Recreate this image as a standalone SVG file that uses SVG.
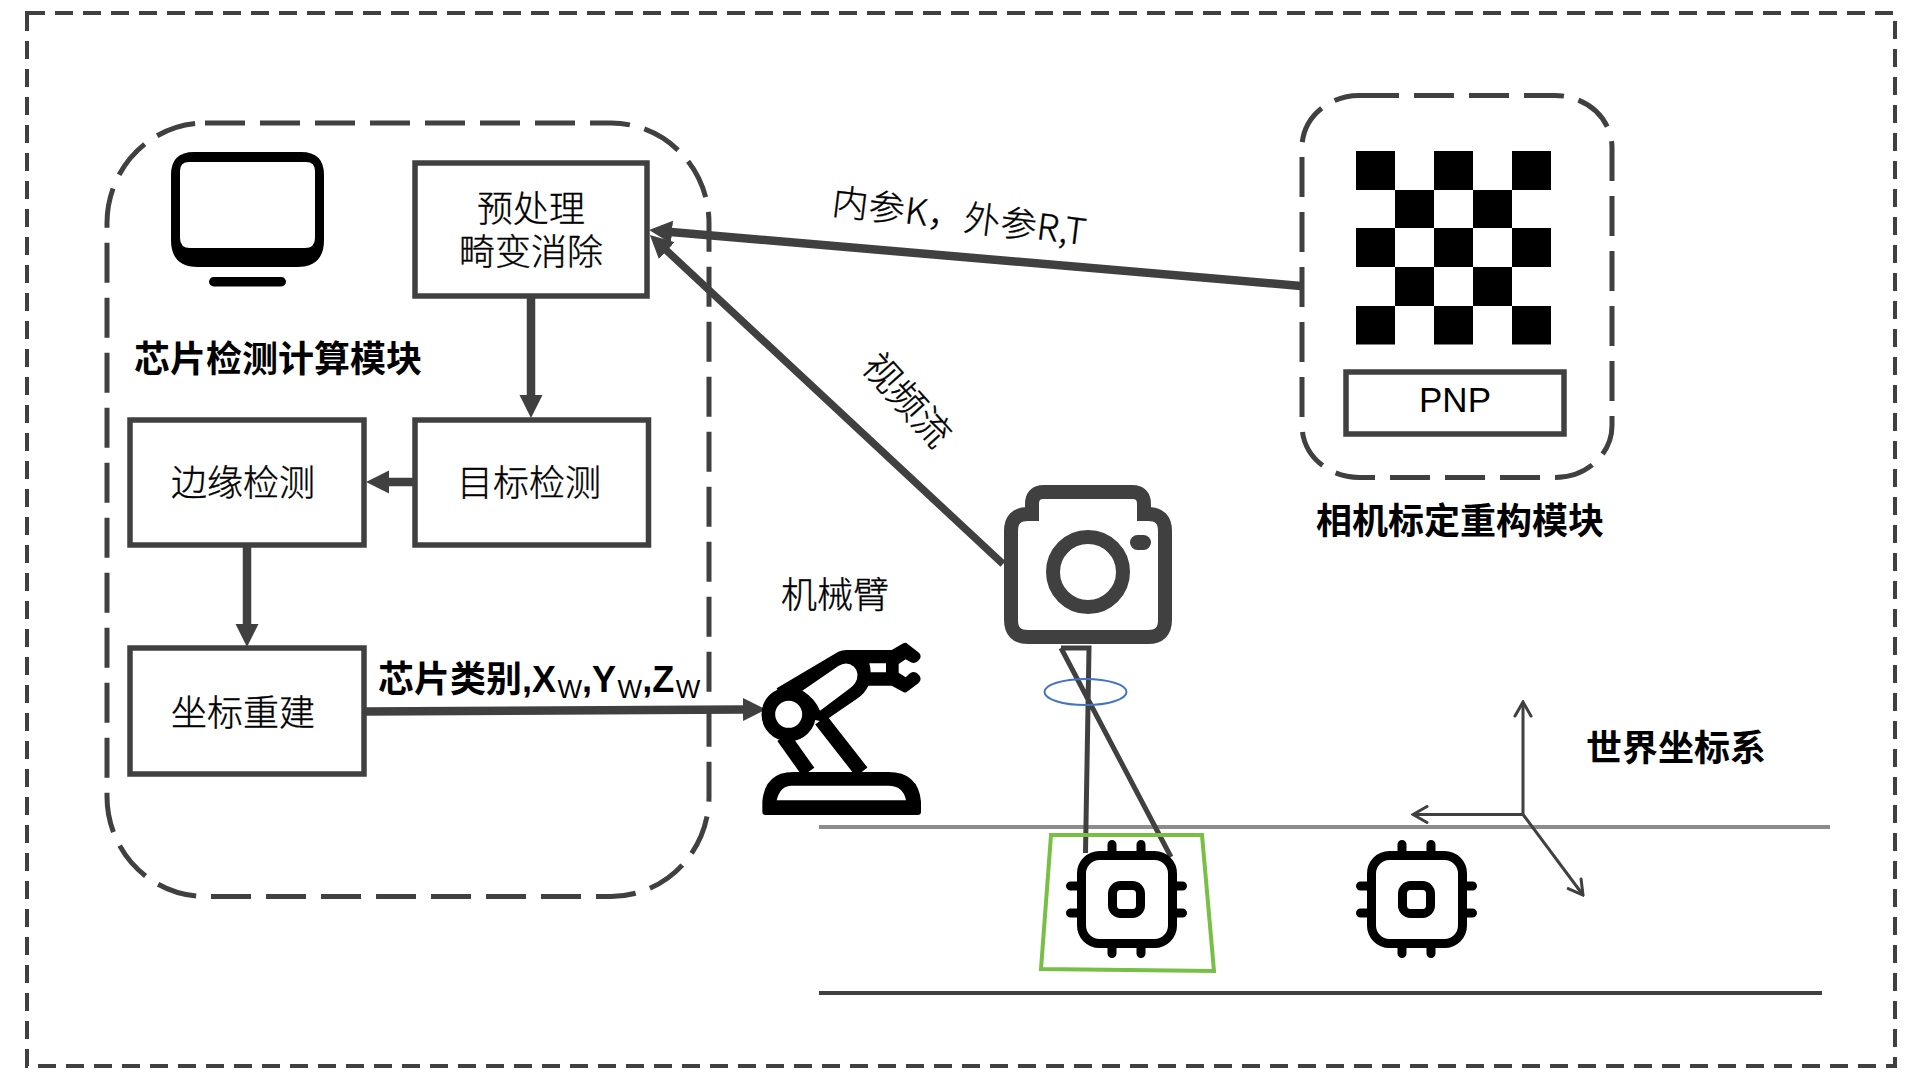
<svg xmlns="http://www.w3.org/2000/svg" width="1920" height="1080" viewBox="0 0 1920 1080">
<defs>
<style>
text{font-family:"Noto Sans CJK SC","Liberation Sans",sans-serif;font-size:36px;fill:#000;font-weight:300;stroke:#000;stroke-width:.35}
.b{font-weight:700;stroke:none}
.m{text-anchor:middle}
.l{font-family:"Liberation Sans","Noto Sans CJK SC",sans-serif}
.s{font-size:26px;font-weight:400}
.box{fill:#fff;stroke:#404040;stroke-width:5.500}
.dash{fill:none;stroke:#404040;stroke-width:5;stroke-dasharray:40 15}
.outer{fill:none;stroke:#404040;stroke-width:4;stroke-dasharray:18 10}
.thick{fill:none;stroke:#404040;stroke-width:8.500;marker-end:url(#head)}
.axis{fill:none;stroke:#404040;stroke-width:3;marker-end:url(#open)}
.cam{fill:none;stroke:#404040;stroke-width:14}
.chipS{fill:#fff;stroke:#000;stroke-width:9}
.pin{fill:none;stroke:#000;stroke-width:9;stroke-linecap:round}
</style>
<marker id="head" markerUnits="userSpaceOnUse" viewBox="0 -12 24 24" refX="1" refY="0" markerWidth="24" markerHeight="24" orient="auto"><path d="M0 -11.500L23 0L0 11.500Z" fill="#404040"/></marker>
<marker id="open" markerUnits="userSpaceOnUse" viewBox="-18 -10 20 20" refX="0" refY="0" markerWidth="20" markerHeight="20" orient="auto"><path d="M-14 -8L0 0L-14 8" fill="none" stroke="#404040" stroke-width="3" stroke-linecap="round"/></marker>
<g id="chipShape">
<path class="pin" d="M1112 844.500V851M1141 844.500V851M1112 948V953.500M1141 948V953.500M1070.500 886H1077M1070.500 913H1077M1177 886H1182.500M1177 913H1182.500"/>
<rect class="chipS" x="1081.500" y="855.500" width="91" height="88" rx="18"/>
<rect class="chipS" x="1112.500" y="885.500" width="28" height="28" rx="8"/>
</g>
</defs>
<rect width="1920" height="1080" fill="#fff"/>
<rect id="frame" class="outer" x="27" y="13" width="1868" height="1053"/>
<g id="module-detect">
<rect class="dash" x="107" y="123" width="602" height="773.500" rx="98" ry="100"/>
<text class="b" x="134" y="372">芯片检测计算模块</text>
</g>
<g id="module-calib">
<rect class="dash" x="1302" y="95.500" width="310" height="382" rx="57" ry="52"/>
<text class="b" x="1316" y="534">相机标定重构模块</text>
</g>
<g id="ground">
<line x1="819" y1="827" x2="1830" y2="827" stroke="#8c8c8c" stroke-width="4"/>
<line x1="819" y1="993" x2="1822" y2="993" stroke="#404040" stroke-width="4"/>
</g>
<g id="connectors">
<line class="thick" x1="531" y1="296" x2="531" y2="396"/>
<line class="thick" x1="414" y1="482" x2="388" y2="482"/>
<line class="thick" x1="247" y1="546" x2="247" y2="625"/>
<line class="thick" x1="365" y1="711.500" x2="744" y2="709.500"/>
<line class="thick" x1="1301" y1="286" x2="671" y2="232"/>
<line class="thick" style="stroke-width:7.500" x1="1003" y1="564" x2="666" y2="250"/>
<path d="M1061 648H1089L1085.500 853M1061 648L1171 857" fill="none" stroke="#404040" stroke-width="5"/>
<line class="axis" x1="1523" y1="814.500" x2="1523" y2="702"/>
<line class="axis" x1="1523" y1="814.500" x2="1413" y2="814.500"/>
<line class="axis" x1="1523" y1="814.500" x2="1583" y2="895"/>
</g>
<g id="monitor">
<path fill-rule="evenodd" d="M171 175Q171 152 194 152H301Q324 152 324 175V240Q324 267 297 267H198Q171 267 171 240ZM180 171V238Q180 248 190 248H305Q315 248 315 238V171Q315 162 306 162H189Q180 162 180 171Z"/>
<rect x="209" y="277" width="77" height="9.500" rx="4.700"/>
</g>
<g id="node-preprocess">
<rect class="box" x="415" y="163" width="232" height="133"/>
<text class="m" x="531" y="222">预处理</text>
<text class="m" x="531" y="265">畸变消除</text>
</g>
<g id="node-target">
<rect class="box" x="415" y="420" width="233.500" height="125"/>
<text class="m" x="529" y="496">目标检测</text>
</g>
<g id="node-edge">
<rect class="box" x="130" y="420" width="234" height="125"/>
<text class="m" x="243" y="496">边缘检测</text>
</g>
<g id="node-coord">
<rect class="box" x="130" y="648" width="234" height="126"/>
<text class="m" x="243" y="726">坐标重建</text>
</g>
<g id="node-pnp">
<rect class="box" x="1346" y="372" width="218" height="62"/>
<text class="m" x="1455" y="412" style="font-family:'Liberation Sans',sans-serif;font-size:35px;font-weight:400;stroke:none">PNP</text>
</g>
<g id="checkerboard">
<path d="M1356 151h39v39h-39zM1434 151h39v39h-39zM1512 151h39v39h-39zM1395 190h39v38h-39zM1473 190h39v38h-39zM1356 228h39v39h-39zM1434 228h39v39h-39zM1512 228h39v39h-39zM1395 267h39v39h-39zM1473 267h39v39h-39zM1356 306h39v38.500h-39zM1434 306h39v38.500h-39zM1512 306h39v38.500h-39z"/>
</g>
<g id="camera">
<path class="cam" d="M1032 514V504Q1032 492 1044 492H1132Q1144 492 1144 504V514H1148Q1165 514 1165 531V620Q1165 637 1148 637H1028Q1011 637 1011 620V531Q1011 514 1028 514Z"/>
<circle cx="1088" cy="572" r="35" class="cam"/>
<rect x="1130" y="535" width="21" height="15" rx="7.500" fill="#404040"/>
</g>
<g id="lens"><ellipse cx="1085.500" cy="692" rx="41" ry="13" fill="none" stroke="#4472c4" stroke-width="2"/></g>
<g id="robot" transform="translate(740 620) scale(.33333)">
<path fill-rule="evenodd" d="M67 575Q67 585 77 585H533Q543 585 543 575V545Q535 456 445 456H160Q75 456 67 545ZM110 541H498Q490 497 445 497H155Q120 497 110 541Z"/>
<path d="M130 350L205 456M243 300L365 456" fill="none" stroke="#000" stroke-width="44"/>
<path fill-rule="evenodd" d="M110 205L295 95Q305 90 320 90H455L490 70Q497 66 503 72L535 97Q548 108 537 120Q525 135 510 125L497 118L476 132V158L497 172L510 160Q525 150 537 165Q548 178 535 190L503 214Q497 220 490 216L455 197H385Q375 220 350 237L250 305L146 283ZM187 212L295 138Q320 122 342 140Q362 160 345 190Q340 197 330 205L240 272Q225 235 187 212ZM388 130H438V157H392Q392 145 388 130Z"/>
<circle cx="146" cy="283" r="61" fill="#fff" stroke="#000" stroke-width="41"/>
</g>
<g id="chips">
<polygon points="1051,835 1202,835 1214,971 1041,969" fill="none" stroke="#78bf45" stroke-width="4"/>
<use href="#chipShape"/>
<use href="#chipShape" x="290"/>
</g>
<g id="labels">
<text x="781" y="608">机械臂</text>
<text class="b" x="1586" y="761">世界坐标系</text>
<text transform="translate(831 214) rotate(7)" style="letter-spacing:.6px">内参K，外参R,T</text>
<text class="m" transform="translate(907 400) rotate(48) translate(0 13)" style="font-size:37px">视频流</text>
<text class="b l" x="378" y="691.500">芯片类别,X<tspan class="s" dy="6" dx="1.500">W</tspan><tspan dy="-6">,Y</tspan><tspan class="s" dy="6" dx="1.500">W</tspan><tspan dy="-6">,Z</tspan><tspan class="s" dy="6" dx="1.500">W</tspan></text>
</g>
</svg>
